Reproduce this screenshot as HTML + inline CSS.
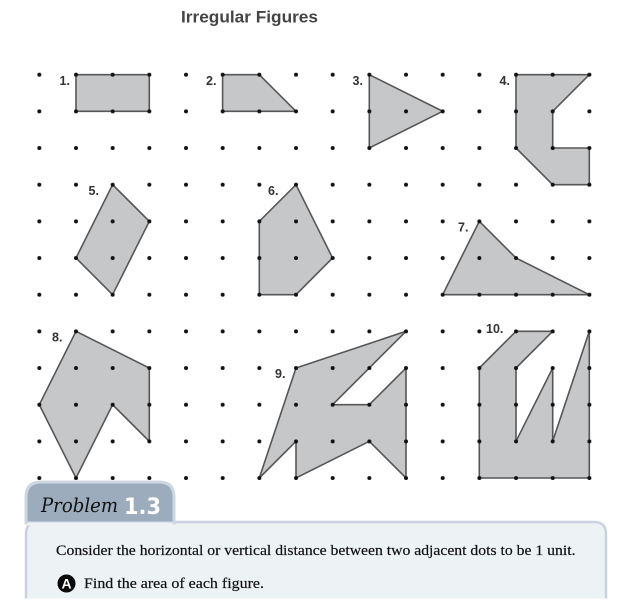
<!DOCTYPE html>
<html><head><meta charset="utf-8"><style>
html,body{margin:0;padding:0;background:#fff;width:642px;height:601px;overflow:hidden}
svg{display:block}
.l{font:bold 12.5px "Liberation Sans",sans-serif;fill:#333}
.s{font:15.2px "Liberation Serif",serif;fill:#111;stroke:#111;stroke-width:.2}
polygon.f{fill:#c6c7c9;stroke:#565656;stroke-width:1.6;stroke-linejoin:miter}
</style></head><body>
<svg width="642" height="601" viewBox="0 0 642 601" xmlns="http://www.w3.org/2000/svg">
<defs>
<pattern id="d" patternUnits="userSpaceOnUse" x="21" y="56.37" width="36.67" height="36.67">
<circle cx="18.33" cy="18.33" r="2" fill="#111"/>
</pattern>
</defs>
<rect width="642" height="601" fill="#fff"/>
<text x="181" y="22.5" font-family="Liberation Sans" font-weight="bold" font-size="17" fill="#444" textLength="137" lengthAdjust="spacingAndGlyphs">Irregular Figures</text>

<polygon class="f" points="76,74.7 149.3,74.7 149.3,111.3 76,111.3"/>
<polygon class="f" points="222.6,74.7 259.3,74.7 296,111.3 222.6,111.3"/>
<polygon class="f" points="369.3,74.7 442.7,111.3 369.3,148"/>
<polygon class="f" points="516,74.7 589.3,74.7 552.7,111.3 552.7,148 589.3,148 589.3,184.7 552.7,184.7 516,148"/>
<polygon class="f" points="112.6,184.7 149.3,221.3 112.6,294.7 76,258"/>
<polygon class="f" points="296,184.7 332.6,258 296,294.7 259.3,294.7 259.3,221.3"/>
<polygon class="f" points="479.3,221.3 516,258 589.3,294.7 442.7,294.7"/>
<polygon class="f" points="76,331.3 149.3,368 149.3,441.3 112.6,404.7 76,478 39.3,404.7"/>
<polygon class="f" points="296,368 406,331.3 332.6,404.7 369.3,404.7 406,368 406,478 369.3,441.3 296,478 296,441.3 259.3,478"/>
<polygon class="f" points="516,331.3 552.7,331.3 516,368 516,441.3 552.7,368 552.7,441.3 589.3,331.3 589.3,478 479.3,478 479.3,368"/>

<rect x="21" y="56.37" width="587" height="423.6" fill="url(#d)"/>

<text class="l" x="59.5" y="85">1.</text>
<text class="l" x="206" y="85">2.</text>
<text class="l" x="352.5" y="85">3.</text>
<text class="l" x="499.5" y="85">4.</text>
<text class="l" x="88.5" y="195">5.</text>
<text class="l" x="268" y="195">6.</text>
<text class="l" x="458" y="231.5">7.</text>
<text class="l" x="52" y="341.5">8.</text>
<text class="l" x="275" y="378">9.</text>
<text class="l" x="486" y="333">10.</text>

<!-- panel -->
<path d="M26 598.5V534Q26 522 38 522H594Q606 522 606 534V598.5Z" fill="#edf2f5"/>
<path d="M26 598.5V534Q26 522 38 522H594Q606 522 606 534V598.5" fill="none" stroke="#c9d3df" stroke-width="2.5"/>
<path d="M26 523V497Q26 482 41 482H159Q174 482 174 497V523Z" fill="#9cacbd" stroke="#cdd7e2" stroke-width="3"/>
<rect x="27.5" y="522.5" width="145" height="3" fill="#edf2f5"/>
<text x="41" y="512" font-family="DejaVu Serif" font-style="italic" font-size="20" fill="#111" textLength="77" lengthAdjust="spacingAndGlyphs">Problem</text>
<text x="124" y="514" font-family="DejaVu Sans" font-weight="bold" font-size="22" fill="#fff" textLength="37" lengthAdjust="spacingAndGlyphs">1.3</text>

<text class="s" x="56" y="555" textLength="519.5" lengthAdjust="spacingAndGlyphs">Consider the horizontal or vertical distance between two adjacent dots to be 1 unit.</text>
<circle cx="66.5" cy="583.5" r="9" fill="#0a0a0a"/>
<text x="66.5" y="588.5" text-anchor="middle" font-family="Liberation Sans" font-weight="bold" font-size="14" fill="#fff">A</text>
<text class="s" x="84" y="588" textLength="180" lengthAdjust="spacingAndGlyphs">Find the area of each figure.</text>
</svg>
</body></html>
